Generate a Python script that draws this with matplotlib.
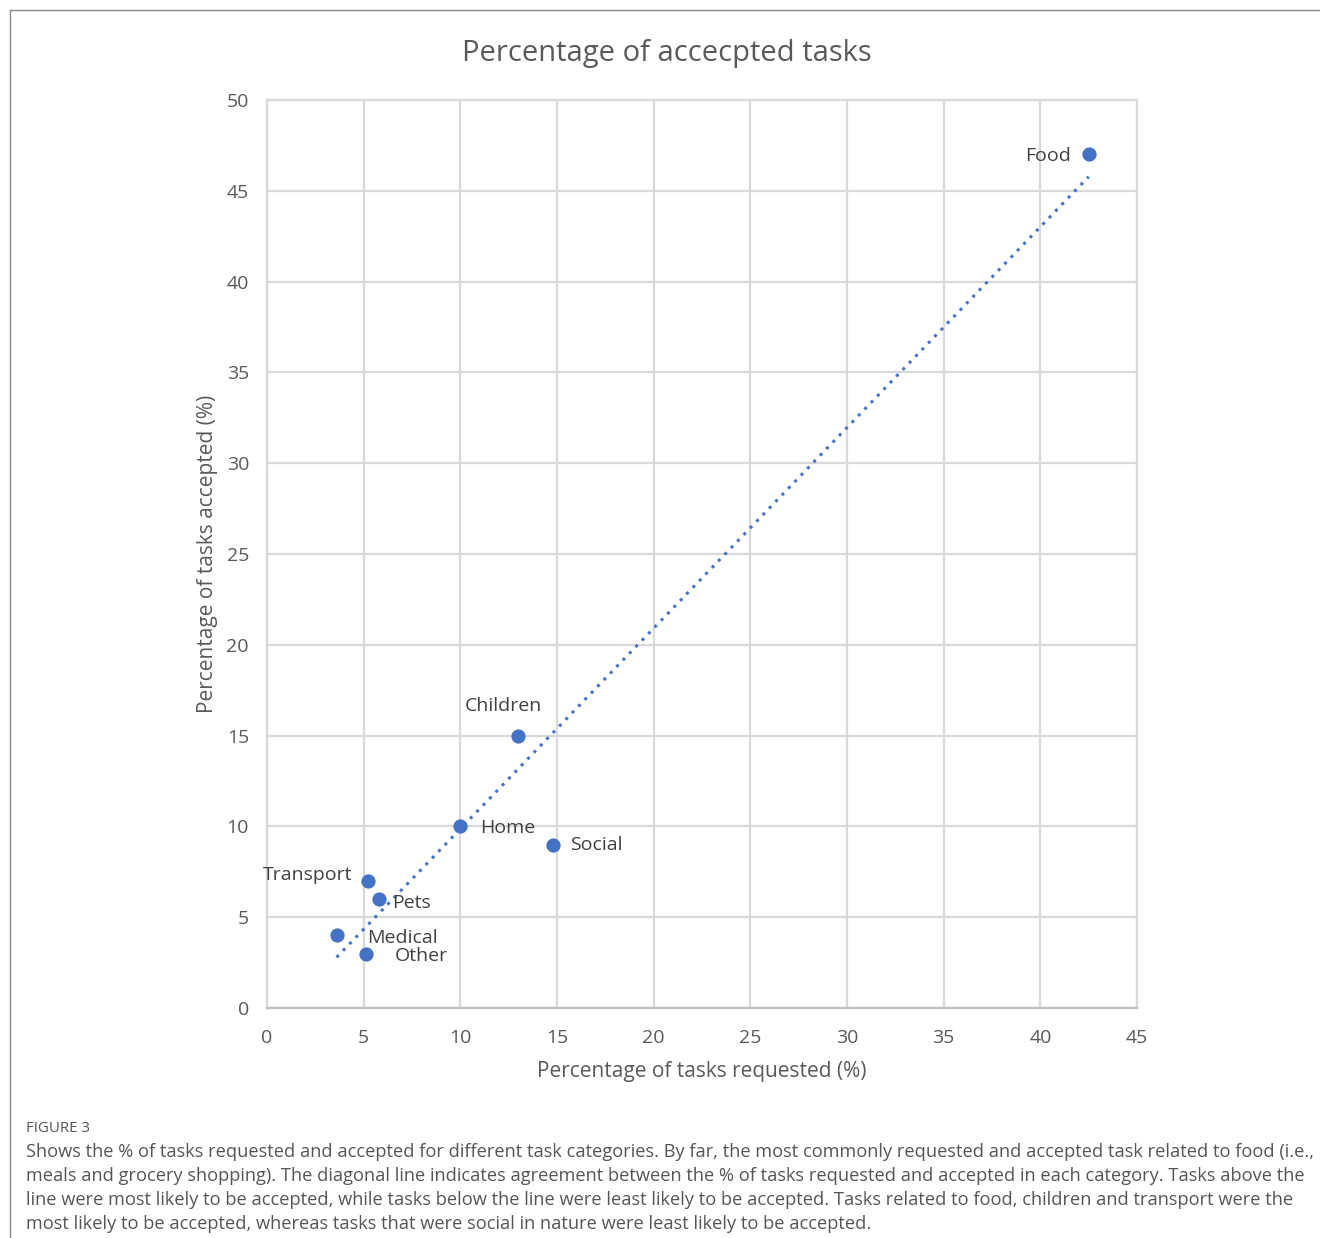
import numpy as np
import matplotlib.pyplot as plt
from matplotlib.lines import Line2D

plt.rcParams["font.family"] = ["Open Sans", "DejaVu Sans"]

# values
categories = ["Food", "Children", "Home", "Social", "Transport", "Pets", "Medical", "Other"]
requested = [42.5, 13.0, 10.0, 14.8, 5.2, 5.8, 3.6, 5.1]
accepted = [47, 15, 10, 9, 7, 6, 4, 3]

# label offsets in points (dx, dy, ha)
label_pos = {
    "Food": (-13, -1, "right"),
    "Children": (-11, 21, "center"),
    "Home": (14, -1, "left"),
    "Social": (12, 0, "left"),
    "Transport": (-11, 4, "right"),
    "Pets": (9, -3, "left"),
    "Medical": (22, -2, "left"),
    "Other": (21, -2, "left"),
}

caption = [
    "Shows the % of tasks requested and accepted for different task categories. By far, the most commonly requested and accepted task related to food (i.e.,",
    "meals and grocery shopping). The diagonal line indicates agreement between the % of tasks requested and accepted in each category. Tasks above the",
    "line were most likely to be accepted, while tasks below the line were least likely to be accepted. Tasks related to food, children and transport were the",
    "most likely to be accepted, whereas tasks that were social in nature were least likely to be accepted.",
]

W, H = 1320, 1238
blue = "#4472C4"
grey_txt = "#595959"

fig = plt.figure(figsize=(W / 100, H / 100), dpi=100)
ax = fig.add_axes([267 / W, 1 - 1008 / H, 870 / W, 908 / H])

ax.set_xlim(0, 45)
ax.set_ylim(0, 50)
ax.set_xticks(np.arange(0, 46, 5))
ax.set_yticks(np.arange(0, 51, 5))
ax.grid(True, color="#d9d9d9", linewidth=1.6)
ax.set_axisbelow(True)
for s in ax.spines.values():
    s.set_color("#d9d9d9")
    s.set_linewidth(1.6)
ax.spines["bottom"].set_color("#bfbfbf")
ax.tick_params(length=0, labelsize=14, colors=grey_txt)
ax.tick_params(axis="y", pad=13)
ax.tick_params(axis="x", pad=15)

# linear trendline
x = np.array(requested)
y = np.array(accepted)
m, b = np.polyfit(x, y, 1)
xs = np.array([x.min(), x.max()])
ax.plot(xs, m * xs + b, linestyle=(0, (1, 2)), color=blue, linewidth=2.2, zorder=2)

ax.scatter(requested, accepted, s=105, color=blue, zorder=3, linewidths=0)

for name, xv, yv in zip(categories, requested, accepted):
    dx, dy, ha = label_pos[name]
    ax.annotate(name, (xv, yv), xytext=(dx, dy), textcoords="offset points",
                ha=ha, va="center", fontsize=14, color="#404040", zorder=4)

ax.set_xlabel("Percentage of tasks requested (%)", fontsize=15, color=grey_txt, labelpad=10)
ax.set_ylabel("Percentage of tasks accepted (%)", fontsize=15, color=grey_txt, labelpad=6)
fig.text(667 / W, 1 - 54 / H, "Percentage of accecpted tasks", ha="center", va="center",
         fontsize=21, color=grey_txt)

# caption
fig.text(26 / W, 1 - 1128 / H, "FIGURE 3", ha="left", va="center", fontsize=10.8, color="#555555")
for i, line in enumerate(caption):
    fig.text(26 / W, 1 - (1152 + 24 * i) / H, line, ha="left", va="center",
             fontsize=13.15, color="#555555")

# frame lines
fig.add_artist(Line2D([10 / W, 10 / W], [0, 1 - 10 / H], color="#888888", linewidth=1))
fig.add_artist(Line2D([10 / W, 1], [1 - 10 / H, 1 - 10 / H], color="#888888", linewidth=1))

fig.savefig("out.png", dpi=100)
